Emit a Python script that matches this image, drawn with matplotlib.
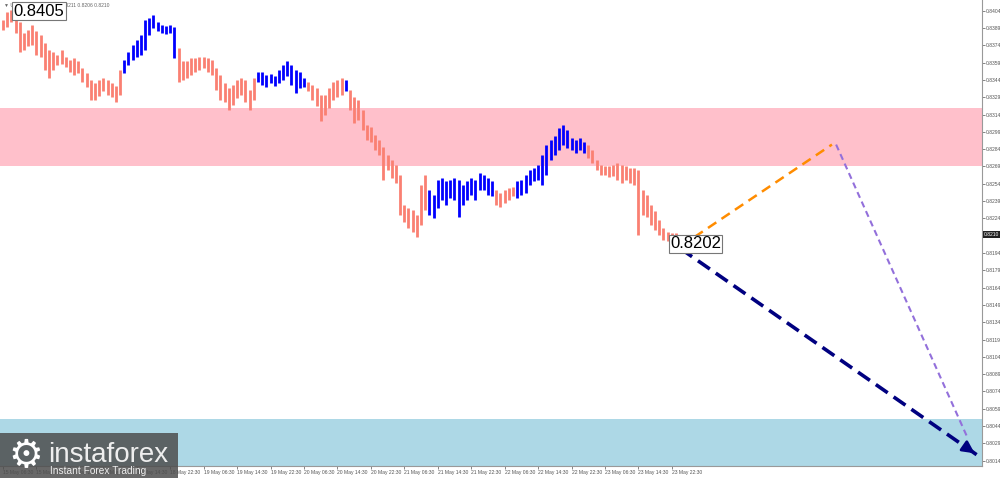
import matplotlib
matplotlib.use("Agg")
import matplotlib.pyplot as plt
from matplotlib.patches import Rectangle
from matplotlib.transforms import blended_transform_factory

plt.rcParams["font.family"] = ["Liberation Sans", "DejaVu Sans"]

# hourly bar extremes in pips (price * 10000)
highs = [
    8396, 8403, 8405, 8401, 8394, 8385, 8387, 8392, 8386, 8383,
    8376, 8370, 8368, 8366, 8370, 8364, 8361, 8363, 8360, 8354,
    8350, 8344, 8341, 8344, 8346, 8344, 8341, 8339, 8353, 8361,
    8368, 8374, 8379, 8383, 8396, 8398, 8400, 8394, 8392, 8391,
    8392, 8390, 8372, 8360, 8360, 8363, 8363, 8364, 8364, 8363,
    8361, 8354, 8348, 8341, 8337, 8340, 8344, 8346, 8344, 8335,
    8346, 8351, 8351, 8348, 8349, 8347, 8353, 8357, 8360, 8357,
    8353, 8351, 8346, 8342, 8340, 8337, 8331, 8331, 8337, 8342,
    8344, 8346, 8344, 8335, 8329, 8327, 8318, 8305, 8303, 8296,
    8292, 8286, 8279, 8275, 8270, 8262, 8236, 8233, 8231, 8227,
    8253, 8262, 8249, 8244, 8257, 8259, 8256, 8257, 8259, 8257,
    8253, 8256, 8259, 8257, 8263, 8262, 8259, 8256, 8249, 8246,
    8249, 8250, 8251, 8256, 8257, 8262, 8266, 8268, 8270, 8279,
    8288, 8292, 8295, 8302, 8305, 8301, 8294, 8292, 8294, 8290,
    8288, 8283, 8275, 8270, 8269, 8269, 8270, 8272, 8270, 8269,
    8268, 8268, 8266, 8249, 8244, 8236, 8230, 8223, 8216, 8212,
    8211, 8211,
]
lows = [
    8387, 8390, 8394, 8385, 8368, 8370, 8373, 8374, 8366, 8364,
    8353, 8346, 8353, 8357, 8358, 8355, 8351, 8348, 8350, 8342,
    8338, 8327, 8327, 8330, 8334, 8331, 8329, 8325, 8331, 8350,
    8357, 8361, 8364, 8366, 8370, 8383, 8389, 8386, 8385, 8384,
    8385, 8363, 8342, 8344, 8346, 8348, 8351, 8353, 8354, 8351,
    8348, 8335, 8327, 8325, 8318, 8322, 8328, 8331, 8325, 8318,
    8327, 8342, 8340, 8338, 8341, 8339, 8341, 8344, 8347, 8340,
    8333, 8337, 8338, 8334, 8327, 8321, 8308, 8314, 8320, 8327,
    8329, 8331, 8334, 8318, 8307, 8309, 8301, 8292, 8290, 8283,
    8279, 8257, 8266, 8259, 8255, 8227, 8221, 8216, 8212, 8208,
    8218, 8231, 8227, 8224, 8233, 8240, 8236, 8242, 8240, 8225,
    8236, 8240, 8244, 8240, 8249, 8249, 8244, 8243, 8236, 8234,
    8237, 8240, 8243, 8242, 8244, 8246, 8253, 8256, 8257, 8253,
    8262, 8275, 8279, 8283, 8288, 8285, 8283, 8281, 8283, 8281,
    8276, 8272, 8266, 8262, 8262, 8260, 8261, 8257, 8255, 8257,
    8255, 8253, 8210, 8227, 8225, 8218, 8214, 8210, 8205, 8204,
    8202, 8205,
]

# wave structure: first bar of each wave and its direction
wave_starts = [0, 29, 42, 61, 73, 82, 83, 102, 118, 123, 140]
wave_dirs = ["down", "up", "down", "up", "down", "up",
             "down", "up", "down", "up", "down"]

tick_bars = [0, 8, 16, 24, 32, 40, 48, 56, 64, 72, 80,
             88, 96, 104, 112, 120, 128, 136, 144, 152, 160]
tick_labels = [
    "15 May 06:30", "15 May 14:30", "15 May 22:30", "16 May 06:30",
    "16 May 14:30", "18 May 22:30", "19 May 06:30", "19 May 14:30",
    "19 May 22:30", "20 May 06:30", "20 May 14:30", "20 May 22:30",
    "21 May 06:30", "21 May 14:30", "21 May 22:30", "22 May 06:30",
    "22 May 14:30", "22 May 22:30", "23 May 06:30", "23 May 14:30",
    "23 May 22:30",
]
price_ticks = [0.8014, 0.8029, 0.8044, 0.8059, 0.8074, 0.8089, 0.8104,
               0.8119, 0.8134, 0.8149, 0.8164, 0.8179, 0.8194, 0.8224,
               0.8239, 0.8254, 0.8269, 0.8284, 0.8299, 0.8314, 0.8329,
               0.8344, 0.8359, 0.8374, 0.8389, 0.8404]

resistance_zone = (0.8269, 0.8320)
support_zone = (0.7980, 0.8050)
high_price = 0.8405
last_price = 0.8202
current_price = 0.8210

# forecast paths as (bar, price)
orange_path = [(162.2, 0.8200), (198.3, 0.8288)]
purple_path = [(199.3, 0.8288), (230.6, 0.8035)]
navy_path = [(162.0, 0.8198), (233.0, 0.8019)]

COLORS = {"down": "#FA8072", "up": "#0000FF"}

fig = plt.figure(figsize=(10, 4.78), dpi=100)
ax = fig.add_axes([0, 0.0251, 0.982, 0.9749])

ax.axhspan(*resistance_zone, color="#FFC0CB", lw=0, zorder=0)
ax.axhspan(*support_zone, color="#ADD8E6", lw=0, zorder=0)

ends = wave_starts[1:] + [len(highs)]
for start, end, d in zip(wave_starts, ends, wave_dirs):
    xs = list(range(start, end))
    ax.vlines(xs, [lows[i] / 10000 for i in xs], [highs[i] / 10000 for i in xs],
              color=COLORS[d], lw=2.0, zorder=2)

ax.plot(*zip(*orange_path), color="#FF8C00", lw=1.8, ls=(0, (4, 2.5)), zorder=3)
ax.plot(*zip(*purple_path), color="#9370DB", lw=1.5, ls=(0, (3, 2)), zorder=3)
ax.plot(*zip(*navy_path), color="#000080", lw=2.6, ls=(0, (4, 2)), zorder=3)
(nx0, ny0), (nx1, ny1) = navy_path
ax.annotate("", xy=(nx1, ny1), xytext=(nx1 - (nx1 - nx0) * 0.04, ny1 - (ny1 - ny0) * 0.04),
            arrowprops=dict(arrowstyle="-|>", color="#000080", lw=2,
                            mutation_scale=18), zorder=4)

ax.set_xlim(-0.72, 234.2)
ax.set_ylim(0.80094, 0.84133)

for side in ("top", "left"):
    ax.spines[side].set_visible(False)
for side in ("right", "bottom"):
    ax.spines[side].set_color("#999999")
    ax.spines[side].set_linewidth(0.8)

ax.yaxis.tick_right()
ax.set_yticks(price_ticks)
ax.set_yticklabels([f"{p:.4f}" for p in price_ticks])
ax.set_xticks(tick_bars)
ax.set_xticklabels(tick_labels, ha="left")
ax.tick_params(axis="both", labelsize=3.6, colors="#555555", length=2, width=0.5, pad=1)

ax.text(159.6, last_price, f"{last_price:.4f}", fontsize=12, va="center", ha="left",
        color="black", zorder=5,
        bbox=dict(boxstyle="square,pad=0.08", fc="white", ec="#777777", lw=0.8))

trans = blended_transform_factory(ax.transAxes, ax.transData)
ax.text(1.002, current_price, f"{current_price:.4f}", transform=trans, fontsize=3.6,
        color="white", va="center", ha="left", clip_on=False,
        bbox=dict(boxstyle="square,pad=0.25", fc="#222222", ec="none"))

fig.text(0.004, 0.996, "\u25bc USDCHF,M30  0.8206 0.8211 0.8206 0.8210",
         fontsize=3.6, color="#666666", va="top", ha="left")
fig.text(0.0135, 0.992, f"{high_price:.4f}", fontsize=12, va="top", ha="left",
         bbox=dict(boxstyle="square,pad=0.08", fc="white", ec="#777777", lw=0.8))

# watermark
fig.add_artist(Rectangle((0, 0), 0.178, 0.094, transform=fig.transFigure,
                         fc="#4d4d4d", ec="none", alpha=0.85, zorder=10))
fig.text(0.026, 0.046, "\u2699", fontsize=28, color="white", ha="center",
         va="center", zorder=11, family=["DejaVu Sans"])
fig.text(0.048, 0.034, "instaforex", fontsize=20, color="#eeeeee", ha="left",
         va="baseline", zorder=11)
fig.text(0.05, 0.009, "Instant Forex Trading", fontsize=7.3, color="#eeeeee",
         ha="left", va="baseline", zorder=11)

fig.savefig("out.png", dpi=100)
